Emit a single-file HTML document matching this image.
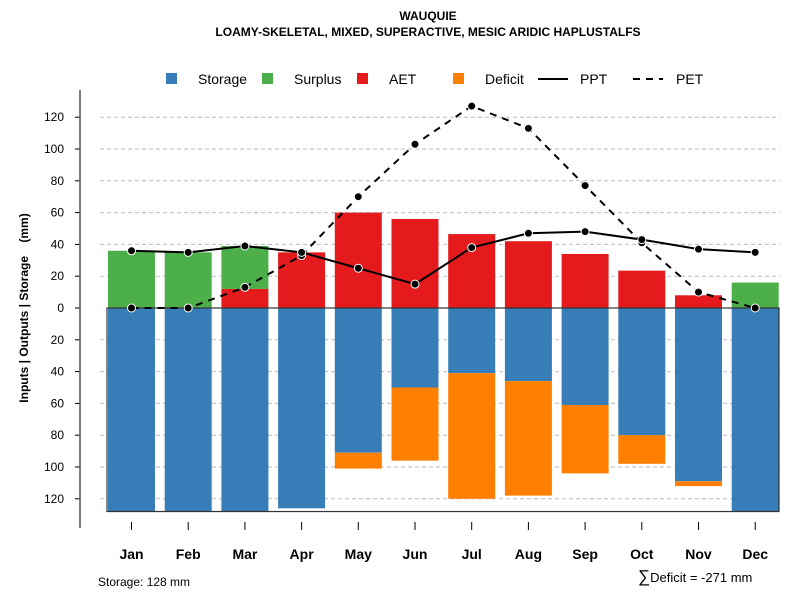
<!DOCTYPE html>
<html><head><meta charset="utf-8"><style>
body{margin:0;background:#fff;font-family:"Liberation Sans",sans-serif}
svg text{font-family:"Liberation Sans",sans-serif}
</style></head><body>
<svg id="c" width="800" height="600" xmlns="http://www.w3.org/2000/svg">
<text x="428" y="20" text-anchor="middle" font-size="12" font-weight="bold">WAUQUIE</text>
<text x="428" y="36" text-anchor="middle" font-size="12" font-weight="bold">LOAMY-SKELETAL, MIXED, SUPERACTIVE, MESIC ARIDIC HAPLUSTALFS</text>
<g id="grid"></g><g id="bars"></g><g id="lines"></g><g id="axes"></g>
<g font-size="14">
<rect x="166" y="73" width="11" height="11" fill="#377eb8"/><text x="198" y="84">Storage</text>
<rect x="262" y="73" width="11" height="11" fill="#4daf4a"/><text x="294" y="84">Surplus</text>
<rect x="357" y="73" width="11" height="11" fill="#e41a1c"/><text x="389" y="84">AET</text>
<rect x="453" y="73" width="11" height="11" fill="#ff7f00"/><text x="485" y="84">Deficit</text>
<line x1="538" y1="79" x2="568" y2="79" stroke="#000" stroke-width="2"/><text x="580" y="84">PPT</text>
<line x1="633" y1="79" x2="663" y2="79" stroke="#000" stroke-width="2" stroke-dasharray="7,6"/><text x="676" y="84">PET</text>
</g>
<text transform="translate(28,308) rotate(-90)" text-anchor="middle" font-size="12" font-weight="bold">Inputs | Outputs | Storage&#160;&#160;&#160;&#160;(mm)</text>
<text x="98" y="586" font-size="12">Storage: 128 mm</text>
<text x="638" y="582" font-size="13"><tspan font-size="17">∑</tspan>Deficit = -271 mm</text>
</svg>
<script>
const months=["Jan","Feb","Mar","Apr","May","Jun","Jul","Aug","Sep","Oct","Nov","Dec"];
const storage=[128,128,128,126,91,50,41,46,61,80,109,128];
const deficit=[0,0,0,0,10,46,79,72,43,18,3,0];
const aet=[0,0,12,35,60,56,46.5,42,34,23.5,8,0];
const surplus=[36,35,27,0,0,0,0,0,0,0,0,16];
const ppt=[36,35,39,35,25,15,38,47,48,43,37,35];
const pet=[0,0,13,33,70,103,127,113,77,41,10,0];
const yTicks=[-120,-100,-80,-60,-40,-20,0,20,40,60,80,100,120];
const ns="http://www.w3.org/2000/svg";
const y=v=>308-v*1.59;
const x=i=>131.5+i*56.7;
const bw=47;
function mk(p,t,a){const e=document.createElementNS(ns,t);for(const k in a)e.setAttribute(k,a[k]);document.getElementById(p).appendChild(e);return e;}
yTicks.forEach(t=>{
  if(t!==0){const g=mk("grid","line",{x1:100,x2:780,y1:y(t),y2:y(t),stroke:"#bbb","stroke-dasharray":"4,3"});
  
  }
  const tk=mk("axes","line",{x1:75,x2:80,y1:y(t),y2:y(t),stroke:"#000"});
  
  
  const l=mk("axes","text",{x:64,y:y(t)+4,"text-anchor":"end","font-size":12});
  l.textContent=Math.abs(t);
  
  
});
months.forEach((m,i)=>{
  const cx=x(i);
  const r1=mk("bars","rect",{x:cx-bw/2,y:y(0),width:bw,height:y(-storage[i])-y(0),fill:"#377eb8"});
  
  
  if(deficit[i]>0){const r=mk("bars","rect",{x:cx-bw/2,y:y(-storage[i]),width:bw,height:y(-storage[i]-deficit[i])-y(-storage[i]),fill:"#ff7f00"});
  
  }
  if(aet[i]>0){const r=mk("bars","rect",{x:cx-bw/2,y:y(aet[i]),width:bw,height:y(0)-y(aet[i]),fill:"#e41a1c"});
  
  }
  if(surplus[i]>0){const r=mk("bars","rect",{x:cx-bw/2,y:y(aet[i]+surplus[i]),width:bw,height:y(aet[i])-y(aet[i]+surplus[i]),fill:"#4daf4a"});
  
  }
  const tk=mk("axes","line",{x1:cx,x2:cx,y1:522,y2:530,stroke:"#000"});
  
  
  const l=mk("axes","text",{x:cx,y:559,"text-anchor":"middle","font-size":14,"font-weight":"bold"});
  l.textContent=m;
  
  
});
const smax=Math.max(...storage);
const box=mk("bars","rect",{x:107,y:y(0),width:672,height:y(-smax)-y(0),fill:"none",stroke:"#333","stroke-width":1.2});


function series(arr,dash,name){
  const p=mk("lines","polyline",{points:arr.map((v,i)=>x(i)+","+y(v)).join(" "),fill:"none",stroke:"#000","stroke-width":2,"stroke-dasharray":dash});
  
  
  arr.forEach((v,i)=>{const c=mk("lines","circle",{cx:x(i),cy:y(v),r:4,fill:"#000",stroke:"#fff","stroke-width":1});
  
  });
}
series(pet,"7,6","pet");
series(ppt,"none","ppt");
const ax=mk("axes","line",{x1:80,x2:80,y1:90,y2:528,stroke:"#555","stroke-width":1.5});


</script>
</body></html>
